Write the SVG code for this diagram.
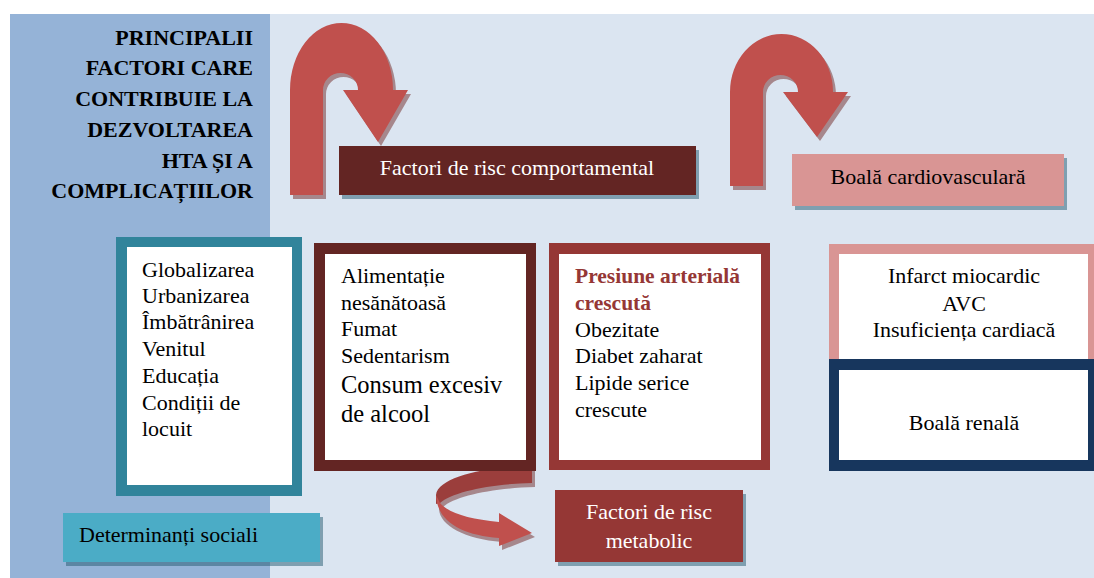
<svg xmlns="http://www.w3.org/2000/svg" width="1094" height="578" viewBox="0 0 1094 578">
  <style>
    text { font-family: "Liberation Serif", "Times New Roman", serif; font-size: 22px; fill: #000; }
    .hdr { font-weight: bold; font-size: 22px; text-anchor: end; }
    .wt { fill: #fff; }
    .mid { text-anchor: middle; }
    .big { font-size: 24.5px; }
    .red { fill: #953735; font-weight: bold; font-size: 21.5px; }
    .bshadow { fill: #23596F; opacity: 0.5; }
    .ashadow { fill: #712927; opacity: 0.5; }
    .arrow { fill: #C0504D; }
    .inner { fill: #fff; }
  </style>
  <rect x="0" y="0" width="1094" height="578" fill="#fff"/>
  <rect x="10" y="14" width="1084" height="564" fill="#DBE5F1"/>
  <rect x="10" y="14" width="260" height="564" fill="#95B3D7"/>

  <g id="title">
    <text class="hdr" x="253" y="45">PRINCIPALII</text>
    <text class="hdr" x="253" y="75">FACTORI CARE</text>
    <text class="hdr" x="253" y="106">CONTRIBUIE LA</text>
    <text class="hdr" x="253" y="137">DEZVOLTAREA</text>
    <text class="hdr" x="253" y="168">HTA ȘI A</text>
    <text class="hdr" x="253" y="198">COMPLICAȚIILOR</text>
  </g>

  <g id="connectors">
    <g id="arrow-behav">
      <path class="ashadow" transform="translate(3,4)" d="M290,195 L290,90 A51.5,67 0 0 1 393,90 L408,90 L378,142 L343,90 L358,90 A17.5,17 0 0 0 323,90 L323,195 Z"/>
      <path class="arrow" d="M290,195 L290,90 A51.5,67 0 0 1 393,90 L408,90 L378,142 L343,90 L358,90 A17.5,17 0 0 0 323,90 L323,195 Z"/>
    </g>
    <g id="arrow-cardio">
      <path class="ashadow" transform="translate(3,4)" d="M730,186 L730,92 A51.5,58 0 0 1 833,92 L848,92 L817,137 L783,92 L798,92 A17.5,17 0 0 0 763,92 L763,186 Z"/>
      <path class="arrow" d="M730,186 L730,92 A51.5,58 0 0 1 833,92 L848,92 L817,137 L783,92 L798,92 A17.5,17 0 0 0 763,92 L763,186 Z"/>
    </g>
    <g id="arrow-metab">
      <path class="ashadow" transform="translate(3,4)" d="M532,465 C485,467 438,477 436,495 C434,512 462,520 499,522 L499,513 L532,533 L499,546 L499,538 C462,535 437,522 436,505 L440,503 C452,492 490,484 532,483 Z"/>
      <path fill="#9B3E3C" d="M532,465 C485,467 438,477 436,495 L436,504 L440,503 C452,492 490,484 532,483 Z"/>
      <path class="arrow" d="M440,503 C450,514 470,519 499,522 L499,513 L532,533 L499,546 L499,538 C462,535 437,522 436,495 Z"/>
    </g>
  </g>

  <g id="node-behav">
    <rect class="bshadow" x="342" y="150" width="357" height="49"/>
    <rect x="339" y="146" width="357" height="49" fill="#632523"/>
    <text class="wt mid" x="517" y="175">Factori de risc comportamental</text>
  </g>

  <g id="node-cardio">
    <rect class="bshadow" x="795" y="158" width="272" height="52"/>
    <rect x="792" y="154" width="272" height="52" fill="#D99594"/>
    <text class="mid" x="928" y="184">Boală cardiovasculară</text>
  </g>

  <g id="node-social-list">
    <rect x="116" y="237" width="186" height="259" fill="#31849B"/>
    <rect class="inner" x="127" y="247" width="165" height="238"/>
    <text x="142" y="277">Globalizarea</text>
    <text x="142" y="303">Urbanizarea</text>
    <text x="142" y="329">Îmbătrânirea</text>
    <text x="142" y="356">Venitul</text>
    <text x="142" y="383">Educația</text>
    <text x="142" y="410">Condiții de</text>
    <text x="142" y="436">locuit</text>
  </g>

  <g id="node-behav-list">
    <rect x="314" y="243" width="222" height="228" fill="#632523"/>
    <rect class="inner" x="325" y="254" width="201" height="206"/>
    <text x="341" y="283">Alimentație</text>
    <text x="341" y="310">nesănătoasă</text>
    <text x="341" y="336">Fumat</text>
    <text x="341" y="363">Sedentarism</text>
    <text class="big" x="341" y="393">Consum excesiv</text>
    <text class="big" x="341" y="422">de alcool</text>
  </g>

  <g id="node-metab-list">
    <rect x="549" y="243" width="221" height="227" fill="#953735"/>
    <rect class="inner" x="559" y="254" width="202" height="206"/>
    <text class="red" x="575" y="283">Presiune arterială</text>
    <text class="red" x="575" y="310">crescută</text>
    <text x="575" y="337">Obezitate</text>
    <text x="575" y="363">Diabet zaharat</text>
    <text x="575" y="390">Lipide serice</text>
    <text x="575" y="417">crescute</text>
  </g>

  <g id="node-cardio-list">
    <rect x="829" y="244" width="265" height="116" fill="#D99594"/>
    <rect class="inner" x="839" y="254" width="249" height="106"/>
    <text class="mid" x="964" y="283">Infarct miocardic</text>
    <text class="mid" x="964" y="311">AVC</text>
    <text class="mid" x="964" y="337">Insuficiența cardiacă</text>
  </g>

  <g id="node-renal">
    <rect x="829" y="359" width="265" height="112" fill="#17365D"/>
    <rect class="inner" x="839" y="370" width="249" height="90"/>
    <text class="mid" x="964" y="430">Boală renală</text>
  </g>

  <g id="node-social">
    <rect class="bshadow" x="66" y="517" width="257" height="49"/>
    <rect x="63" y="513" width="257" height="49" fill="#4BACC6"/>
    <text x="79" y="542">Determinanți sociali</text>
  </g>

  <g id="node-metab">
    <rect class="bshadow" x="558" y="494" width="188" height="72"/>
    <rect x="555" y="490" width="188" height="72" fill="#953735"/>
    <text class="wt mid" x="649" y="519">Factori de risc</text>
    <text class="wt mid" x="649" y="548">metabolic</text>
  </g>
</svg>
